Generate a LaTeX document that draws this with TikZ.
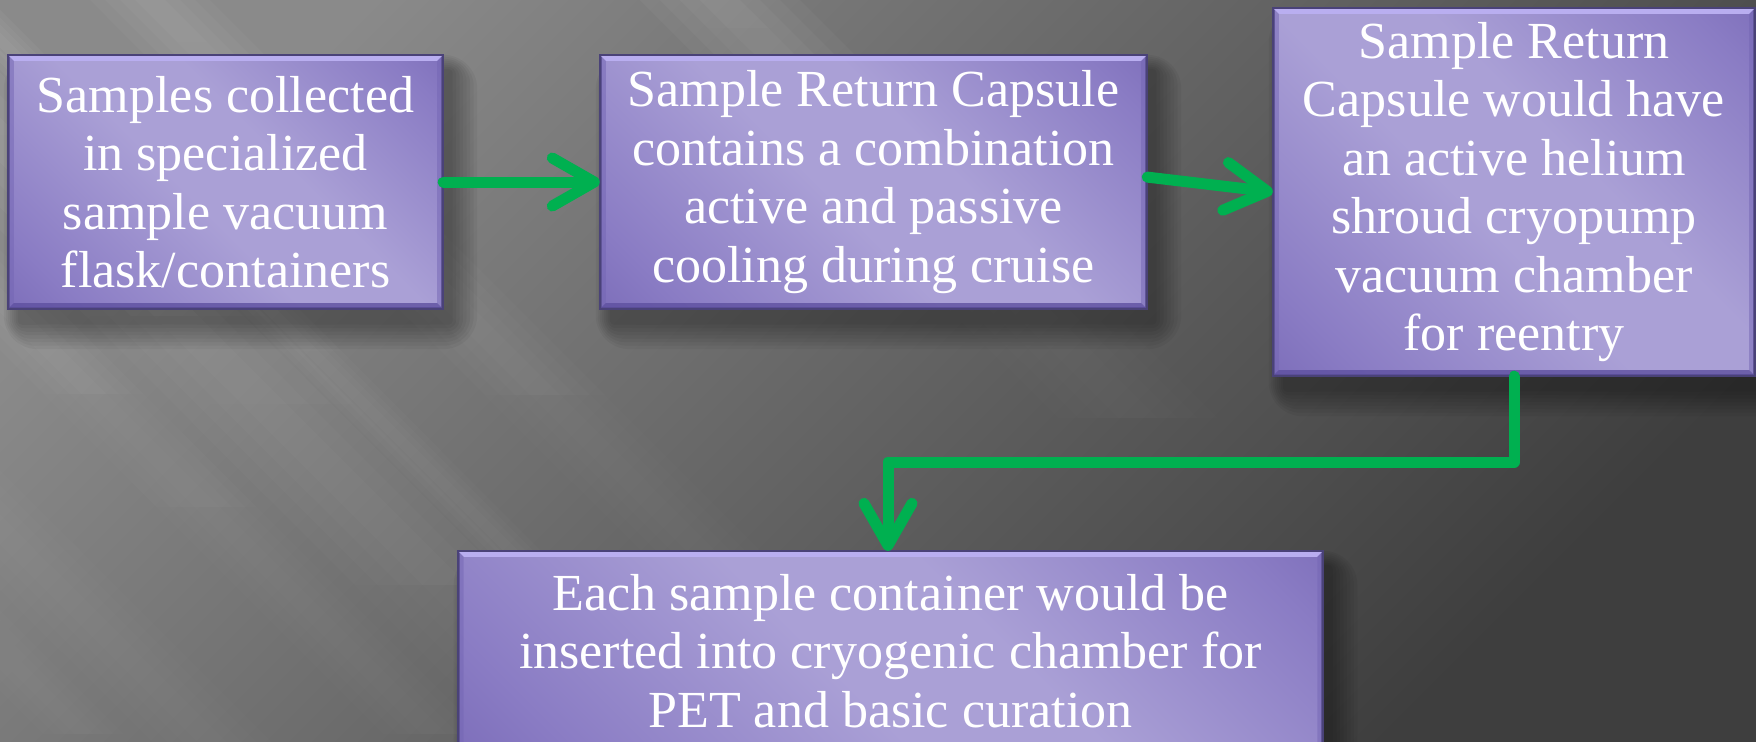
\documentclass[tikz,border=0pt]{standalone}
\usepackage{fontspec}
\setmainfont{Liberation Serif}
\usetikzlibrary{arrows.meta,calc,fadings}
\definecolor{grn}{HTML}{00B050}
\definecolor{pdark}{HTML}{6656A8}
\definecolor{pmid}{HTML}{8A7CC4}
\definecolor{plight}{HTML}{AAA0D6}
\definecolor{pedge}{HTML}{4A4278}
\definecolor{bevtop}{HTML}{B9AEF0}
\definecolor{bevside}{HTML}{7466B4}
\definecolor{bevbot}{HTML}{5E50A0}
\definecolor{bgl}{HTML}{8A8A8A}
\definecolor{bgr}{HTML}{3E3E3E}
\pgfdeclarelayer{bglayer}
\pgfdeclarelayer{shadowlayer}
\pgfsetlayers{bglayer,shadowlayer,main}
\pgfdeclareverticalshading{boxshade}{100bp}{color(0bp)=(pdark); color(22bp)=(pmid); color(45bp)=(plight); color(58bp)=(plight); color(80bp)=(pmid); color(100bp)=(pdark)}
\tikzfading[name=fadedown, top color=transparent!0, bottom color=transparent!100]
\tikzset{
 procbox/.style={rectangle, draw=pedge, line width=0.6pt, shading=boxshade, shading angle=-45, text=white, align=center, font=\fontsize{14.8pt}{16.6pt}\selectfont, inner sep=0pt},
 flow/.style={draw=grn, line width=0.11cm, line cap=round, line join=round, -{Straight Barb[length=4.2mm,width=4.8mm,round]}},
}
\newcommand\mybevels[1]{%
 \fill[bevtop] (#1.north west) -- (#1.north east) -- ($(#1.north east)+(-6,6)$) -- ($(#1.north west)+(6,6)$) -- cycle;
 \fill[bevside, opacity=0.5] (#1.north west) -- ($(#1.north west)+(6,6)$) -- ($(#1.south west)+(6,-6)$) -- (#1.south west) -- cycle;
 \fill[bevside, opacity=0.5] (#1.north east) -- ($(#1.north east)+(-6,6)$) -- ($(#1.south east)+(-6,-6)$) -- (#1.south east) -- cycle;
 \fill[bevbot, opacity=0.8] (#1.south west) -- (#1.south east) -- ($(#1.south east)+(-6,-6)$) -- ($(#1.south west)+(6,-6)$) -- cycle;
 \draw[pedge, line width=0.6pt] (#1.north west) rectangle (#1.south east);
 \begin{pgfonlayer}{shadowlayer}
  \foreach \k in {1,...,8}{%
   \fill[black, opacity=0.045, rounded corners=\k*1.2pt] ($(#1.north west)+(12-\k*2,16-\k*2)$) rectangle ($(#1.south east)+(6+\k*3.5,12+\k*3.5)$);
  }
 \end{pgfonlayer}
}
\newcommand\mystreak[4]{%
 \foreach \k in {1,...,4}{%
  \pgfmathsetmacro\hw{#2*\k/8}%
  \fill[white, opacity=#3, path fading=fadedown] (#1-\hw,0) -- (#1+\hw,0) -- (#1+\hw+#4,#4) -- (#1-\hw+#4,#4) -- cycle;
 }}
\begin{document}
\begin{tikzpicture}[x=0.01cm,y=-0.01cm]
\clip (0,0) rectangle (1756,741);
\begin{pgfonlayer}{bglayer}
\shade[top color=bgl, bottom color=bgr, shading angle=45] (0,0) rectangle (1756,741);
\mystreak{720}{160}{0.035}{500}
\mystreak{150}{120}{0.03}{700}
\mystreak{-140}{180}{0.04}{900}
\mystreak{-40}{60}{0.035}{900}
\mystreak{-300}{100}{0.03}{900}
\mystreak{-530}{120}{0.035}{900}
\mystreak{-650}{80}{0.03}{900}
\end{pgfonlayer}

\node[procbox, minimum width=4.33cm, minimum height=2.52cm] (b1) at (225.5,182) {Samples collected\\in specialized\\sample vacuum\\flask/containers};
\node[procbox, minimum width=5.45cm, minimum height=2.52cm] (b2) at (873.5,182) {Sample Return Capsule\\contains a combination\\active and passive\\cooling during cruise};
\node[procbox, minimum width=4.80cm, minimum height=3.66cm] (b3) at (1514,192) {Sample Return\\Capsule would have\\an active helium\\shroud cryopump\\vacuum chamber\\for reentry};
\node[procbox, minimum width=8.63cm, minimum height=1.98cm] (b4) at (890.5,651) {Each sample container would be\\inserted into cryogenic chamber for\\PET and basic curation};
\mybevels{b1}
\mybevels{b2}
\mybevels{b3}
\mybevels{b4}

\coordinate (k) at (888,462);
\draw[flow] (b1) -- (b2);
\draw[flow] ([yshift=1.4pt]b2.east) -- (b3.west);
\draw[flow] (b3.south) |- (k) -- (k |- b4.north);
\end{tikzpicture}
\end{document}
